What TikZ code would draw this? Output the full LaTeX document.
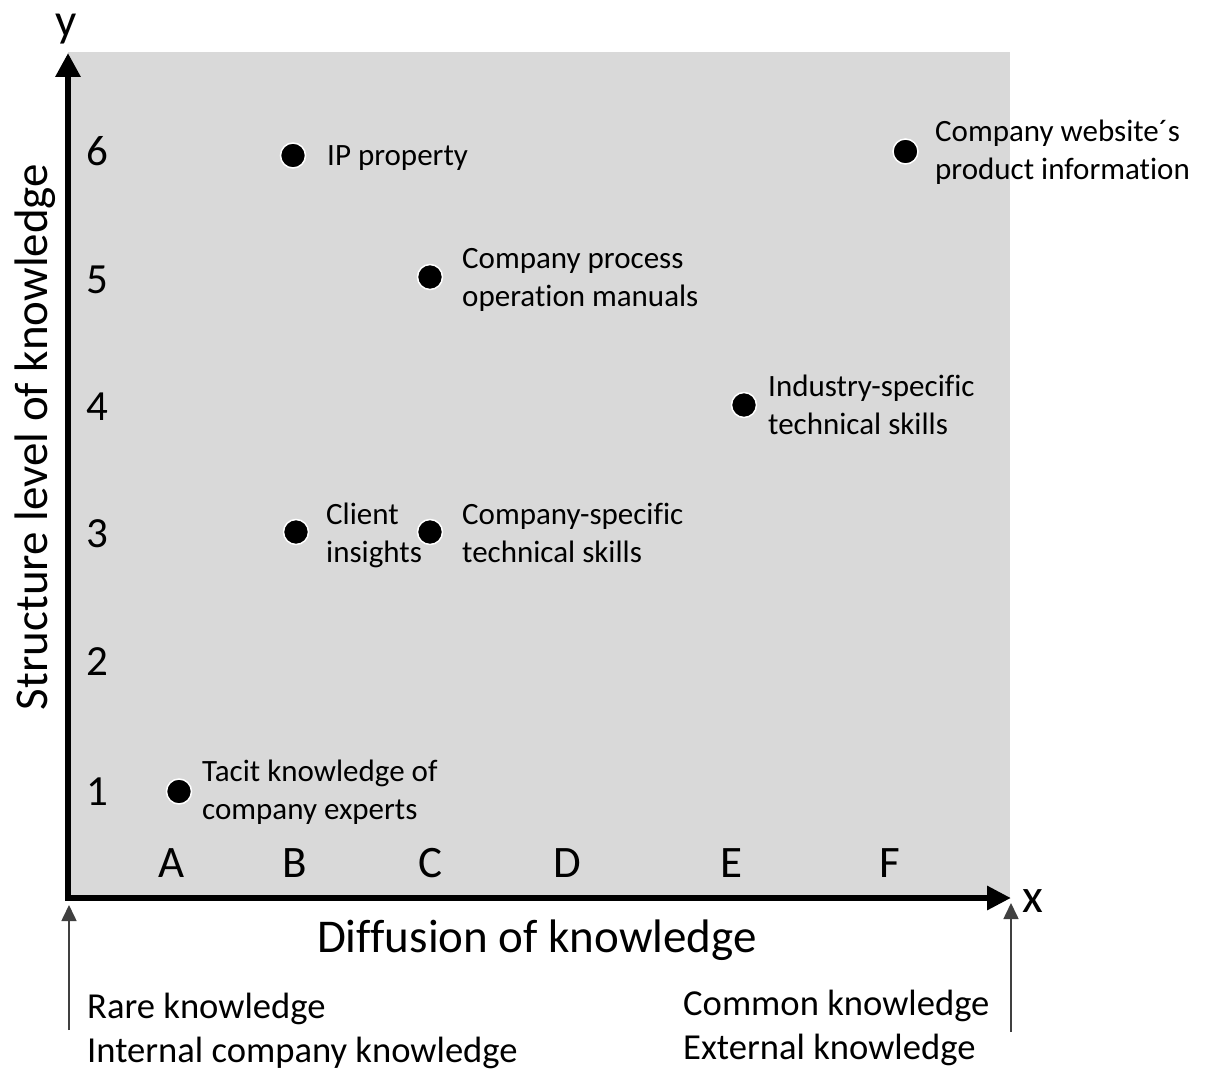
\documentclass[tikz,border=0pt]{standalone}
\usepackage{fontspec}
\setmainfont{Carlito}[Ligatures=CommonOff]
\usetikzlibrary{arrows.meta}
\definecolor{panel}{HTML}{D9D9D9}
\definecolor{thinline}{HTML}{404040}

\tikzset{
  pointdot/.style={circle, fill=black, draw=white, line width=1.5pt,
    minimum size=25pt, inner sep=0pt},
  pointlabel/.style={anchor=west, align=left, inner sep=0pt,
    font=\fontsize{31}{38}\selectfont},
  ticklabel/.style={anchor=base, inner sep=0pt, font=\fontsize{43}{50}\selectfont},
  letterlabel/.style={anchor=base, inner sep=0pt, font=\fontsize{45}{54}\selectfont},
  axistitle/.style={anchor=base, inner sep=0pt, font=\fontsize{47}{56}\selectfont},
  endnote/.style={anchor=base west, inner sep=0pt, font=\fontsize{36.6}{43}\selectfont},
  mainaxis/.style={line width=6.5pt, line join=miter,
    {Triangle[length=24pt,width=24pt]}-{Triangle[length=24pt,width=23pt]}},
  thinarrow/.style={thinline, line width=1.6pt, -{Triangle[length=16pt,width=15pt]}}
}

\begin{document}
\begin{tikzpicture}[x=1pt, y=-1pt]
  \useasboundingbox (0,0) rectangle (1211,1070);

  % shaded plotting area
  \fill[panel] (68,52) rectangle (1010,898);

  % axes
  \coordinate (origin) at (68,898);
  \coordinate (ytip) at (68,53);
  \coordinate (xtip) at (1011,898);
  \draw[mainaxis] (ytip) -- (origin) -- (xtip);

  \node[axistitle] (ylab) at (66,37) {y};
  \node[anchor=base, inner sep=0pt, font=\fontsize{48}{56}\selectfont] (xlab) at (1033,912) {x};

  % axis titles
  \node[axistitle] (xtitle) at (537,952) {Diffusion of knowledge};
  \node[axistitle, rotate=90] (ytitle) at (47,437) {Structure level of knowledge};

  % structure levels
  \node[ticklabel] (l6) at (97,166) {6};
  \node[ticklabel] (l5) at (97,293) {5};
  \node[ticklabel] (l4) at (97,420) {4};
  \node[ticklabel] (l3) at (97,547) {3};
  \node[ticklabel] (l2) at (97,675) {2};
  \node[ticklabel] (l1) at (97,805) {1};

  % diffusion levels
  \node[letterlabel] (dA) at (172,877) {A};
  \node[letterlabel] (dB) at (295,877) {B};
  \node[letterlabel] (dC) at (430,877) {C};
  \node[letterlabel] (dD) at (567,877) {D};
  \node[letterlabel] (dE) at (731,877) {E};
  \node[letterlabel] (dF) at (890,877) {F};

  % knowledge items
  \node[pointdot] (ip) at (293,155.5) {};
  \node[pointlabel] (iptext) at (327,158) {IP property};

  \node[pointdot] (web) at (905.5,151.5) {};
  \node[pointlabel] (webtext) at (935,152) {Company website´s\\product information};

  \node[pointdot] (manual) at (430,277) {};
  \node[pointlabel] (manualtext) at (462,280) {Company process\\operation manuals};

  \node[pointdot] (industry) at (744,405) {};
  \node[pointlabel] (industrytext) at (768,405) {Industry-specific\\technical skills};

  \node[pointdot] (client) at (296,532) {};
  \node[pointlabel] (clienttext) at (326,535) {Client\\insights};

  \node[pointdot] (company) at (430,532) {};
  \node[pointlabel] (companytext) at (462,533) {Company-specific\\technical skills};

  \node[pointdot] (tacit) at (179,791.5) {};
  \node[pointlabel] (tacittext) at (202,792) {Tacit knowledge of\\company experts};

  % ends of the diffusion scale
  \coordinate (rarefoot) at (69,1030);
  \coordinate (raretip) at (69,905);
  \draw[thinarrow] (rarefoot) -- (raretip);
  \coordinate (commonfoot) at (1011,1032);
  \coordinate (commontip) at (1011,903);
  \draw[thinarrow] (commonfoot) -- (commontip);

  \node[endnote] (rare1) at (87,1018) {Rare knowledge};
  \node[endnote] (rare2) at (87,1062) {Internal company knowledge};
  \node[endnote] (common1) at (683,1015) {Common knowledge};
  \node[endnote] (common2) at (683,1059) {External knowledge};
\end{tikzpicture}
\end{document}
